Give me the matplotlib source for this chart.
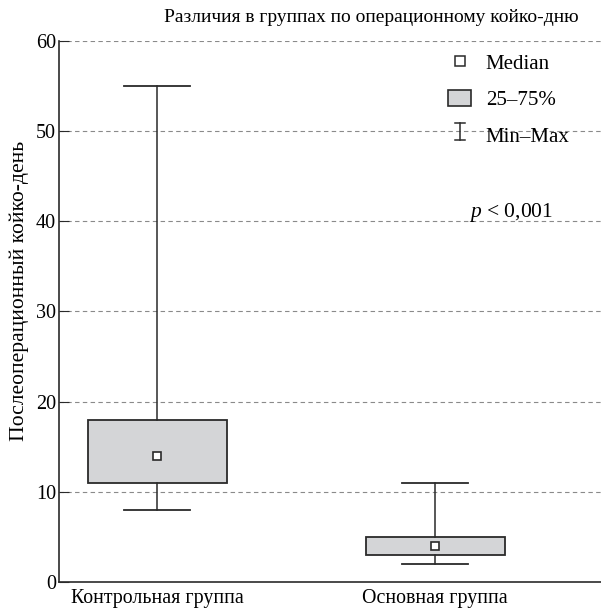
import matplotlib
matplotlib.use("Agg")
import matplotlib.pyplot as plt
from matplotlib.patches import Patch
from matplotlib.lines import Line2D
from matplotlib.legend_handler import HandlerBase

plt.rcParams["font.family"] = ["Liberation Serif", "DejaVu Serif"]
plt.rcParams["mathtext.fontset"] = "custom"
plt.rcParams["mathtext.it"] = "Liberation Serif:italic"

groups = ["Контрольная группа", "Основная группа"]
mins = [8, 2]
q1s = [11, 3]
medians = [14, 4]
q3s = [18, 5]
maxs = [55, 11]
yticks = [0, 10, 20, 30, 40, 50, 60]

box_color = "#d4d5d7"
edge = "#2a2a2a"


class MinMaxHandler(HandlerBase):
    # draws a small I-beam in the legend
    def create_artists(self, legend, orig, xd, yd, w, h, fontsize, trans):
        cx = xd + w / 2
        top = yd + h * 1.0
        bot = yd + h * 0.0
        hw = w * 0.22
        lines = [
            Line2D([cx, cx], [bot, top]),
            Line2D([cx - hw, cx + hw], [top, top]),
            Line2D([cx - hw, cx + hw], [bot, bot]),
        ]
        for ln in lines:
            ln.set_color(edge)
            ln.set_linewidth(1.1)
            ln.set_transform(trans)
        return lines


fig = plt.figure(figsize=(6.01, 6.10), dpi=100)
ax = fig.add_axes([0.098, 0.046, 0.902, 0.887])

bp = ax.bxp(
    [
        {"med": medians[i], "q1": q1s[i], "q3": q3s[i],
         "whislo": mins[i], "whishi": maxs[i], "fliers": [], "label": groups[i]}
        for i in range(len(groups))
    ],
    positions=[0, 1],
    widths=0.5,
    patch_artist=True,
    showfliers=False,
    boxprops=dict(facecolor=box_color, edgecolor=edge, linewidth=1.3),
    whiskerprops=dict(color=edge, linewidth=1.1),
    capprops=dict(color=edge, linewidth=1.3),
    medianprops=dict(linewidth=0),
    capwidths=0.24,
    zorder=3,
)
ax.plot([0, 1], medians, linestyle="none", marker="s", markersize=6,
        markerfacecolor="white", markeredgecolor=edge, markeredgewidth=1.2, zorder=4)

ax.set_xlim(-0.353, 1.597)
ax.set_ylim(0, 60)
ax.set_yticks(yticks)
ax.set_xticks([0, 1])
ax.set_xticklabels(groups, fontsize=14.3)
ax.tick_params(axis="y", direction="in", length=7, labelsize=14.5, color=edge, pad=2)
ax.tick_params(axis="x", length=0, pad=5)
for y in yticks[1:]:
    ax.axhline(y, color="#8a8a8a", linestyle=(0, (4, 3)), linewidth=0.8, zorder=1)
ax.spines["top"].set_visible(False)
ax.spines["right"].set_visible(False)
ax.spines["left"].set_color(edge)
ax.spines["bottom"].set_color(edge)
ax.spines["left"].set_linewidth(1.2)
ax.spines["bottom"].set_linewidth(1.2)

ax.set_ylabel("Послеоперационный койко-день", fontsize=15.6)
ax.yaxis.set_label_coords(-0.055, 0.538)
fig.text(0.618, 0.972, "Различия в группах по операционному койко-дню",
         ha="center", va="center", fontsize=14)

handles = [
    Line2D([], [], linestyle="none", marker="s", markersize=6.5,
           markerfacecolor="white", markeredgecolor=edge, markeredgewidth=1.1),
    Patch(facecolor=box_color, edgecolor=edge, linewidth=1.2),
    Line2D([], []),
]
leg = fig.legend(handles, ["Median", "25\u201375%", "Min\u2013Max"],
                 handler_map={handles[2]: MinMaxHandler()},
                 loc="upper left", bbox_to_anchor=(440 / 601, 1 - 45 / 610),
                 frameon=False, fontsize=15, handlelength=1.1, handleheight=0.87,
                 labelspacing=0.75, handletextpad=0.7, borderaxespad=0)

ax.text(0.834, 0.683, r"$p$ < 0,001", transform=ax.transAxes,
        ha="center", va="center", fontsize=15.5)

fig.savefig("out.png", dpi=100)
